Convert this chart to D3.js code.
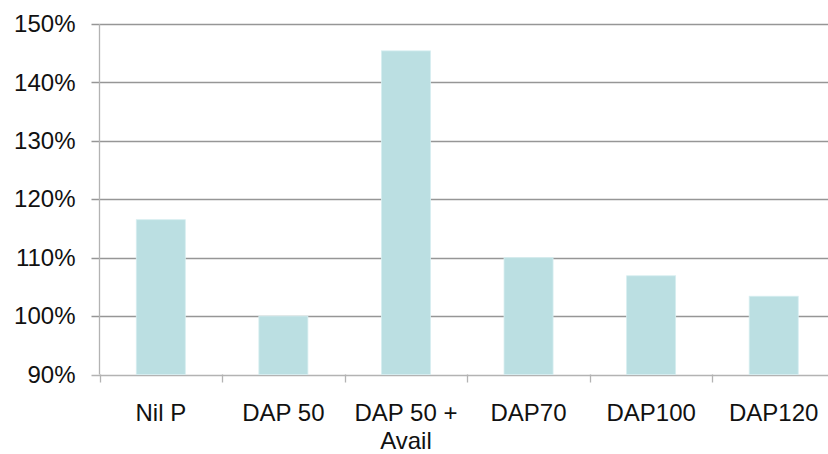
<!DOCTYPE html>
<html>
<head>
<meta charset="utf-8">
<script src="https://cdn.jsdelivr.net/npm/d3@7"></script>
<style>
  html, body { margin: 0; padding: 0; background: #fff; }
  svg { display: block; font-family: "Liberation Sans", Arial, sans-serif; }
</style>
</head>
<body>
<svg id="chart" width="828" height="454"></svg>
<script>
const categories = ["Nil P", "DAP 50", "DAP 50 + Avail", "DAP70", "DAP100", "DAP120"];
const values = [116.5, 100, 145.4, 110, 106.9, 103.4];
const yTicks = [90, 100, 110, 120, 130, 140, 150];

const svg = d3.select("#chart");
const mLeft = 99.5, mRight = 835, mTop = 24, mBottom = 374.5;

const x = d3.scaleBand().domain(categories).range([mLeft, mRight])
  .paddingInner(0.6).paddingOuter(0.3);
const y = d3.scaleLinear().domain([90, 150]).range([mBottom, mTop]);

// gridlines
svg.append("g").selectAll("line").data(yTicks).join("line")
  .attr("x1", mLeft - 8).attr("x2", 828)
  .attr("y1", d => Math.round(y(d)) + 0.5).attr("y2", d => Math.round(y(d)) + 0.5)
  .attr("stroke", d => d === 90 ? "#b3b3b3" : "#969696").attr("stroke-width", 1.3);

// y axis line
svg.append("line").attr("x1", mLeft).attr("x2", mLeft)
  .attr("y1", mTop).attr("y2", mBottom)
  .attr("stroke", "#b3b3b3").attr("stroke-width", 1.3);

// y tick labels
const yAxis = d3.axisLeft(y).tickValues(yTicks).tickSize(0).tickPadding(24)
  .tickFormat(d => d + "%");
const gy = svg.append("g").attr("transform", `translate(${mLeft},0)`).call(yAxis);
gy.select(".domain").remove();
gy.selectAll("text").attr("font-size", 24).attr("fill", "#111")
  .attr("font-family", "Liberation Sans, Arial, sans-serif");

// bars
svg.append("g").selectAll("rect").data(values).join("rect")
  .attr("x", (d, i) => x(categories[i]))
  .attr("width", x.bandwidth())
  .attr("y", d => y(d))
  .attr("height", d => y(90) - y(d))
  .attr("fill", "#bbdfe2")
  .attr("stroke", "#d6eef0").attr("stroke-width", 0.8);

// category boundary ticks
const bounds = d3.range(categories.length + 1).map(i => x.range()[0] + i * x.step());
svg.append("g").selectAll("line").data(bounds).join("line")
  .attr("x1", d => Math.round(d) + 0.5).attr("x2", d => Math.round(d) + 0.5)
  .attr("y1", mBottom).attr("y2", mBottom + 8)
  .attr("stroke", "#b3b3b3").attr("stroke-width", 1.3);

// x labels
const xAxis = d3.axisBottom(x).tickSize(0).tickPadding(0);
const gx = svg.append("g").attr("transform", `translate(0,${mBottom})`).call(xAxis);
gx.select(".domain").remove();
gx.selectAll("text").attr("font-size", 24).attr("fill", "#111")
  .attr("font-family", "Liberation Sans, Arial, sans-serif")
  .attr("dy", null).attr("y", 0)
  .each(function(d) {
    const t = d3.select(this);
    const words = d.split(" ");
    const lines = [];
    let cur = [];
    words.forEach(w => {
      const test = cur.concat(w).join(" ");
      t.text(test);
      if (this.getComputedTextLength() > 118 && cur.length) { lines.push(cur.join(" ")); cur = [w]; }
      else cur.push(w);
    });
    lines.push(cur.join(" "));
    t.text(null);
    lines.forEach((l, i) => t.append("tspan").attr("x", 0).attr("y", 46.5 + i * 28).text(l));
  });
</script>
</body>
</html>
